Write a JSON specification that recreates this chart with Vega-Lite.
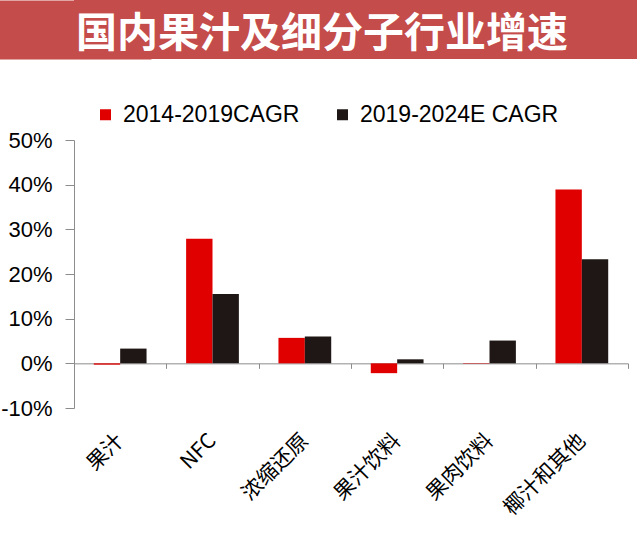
{
  "$schema": "https://vega.github.io/schema/vega-lite/v6.json",
  "background": "white",
  "padding": 0,
  "spacing": 44,
  "resolve": {"legend": {"color": "independent"}},
  "config": {"view": {"stroke": null}, "font": "Liberation Sans"},
  "vconcat": [
    {
      "width": 563,
      "height": 59,
      "view": {"fill": "#c44c4a", "stroke": null},
      "data": {"values": [{"heading": "国内果汁及细分子行业增速"}]},
      "mark": {"type": "text", "font": "Noto Sans CJK SC", "fontWeight": "bold", "fontSize": 41, "color": "white", "baseline": "middle", "dx": -33.5, "dy": 5},
      "encoding": {
        "text": {"field": "heading"},
        "y": {
          "field": "heading",
          "type": "nominal",
          "scale": {"paddingInner": 0, "paddingOuter": 0},
          "axis": {
            "title": null,
            "labels": false,
            "ticks": false,
            "domainWidth": 154,
            "domainCap": "butt",
            "domainColor": "#c44c4a"
          }
        }
      }
    },
    {
      "width": 554,
      "height": 268,
      "data": {
        "values": [
          {"segment": "果汁", "period": "2014-2019CAGR", "growth": -0.3},
          {"segment": "果汁", "period": "2019-2024E CAGR", "growth": 3.3},
          {"segment": "NFC", "period": "2014-2019CAGR", "growth": 27.9},
          {"segment": "NFC", "period": "2019-2024E CAGR", "growth": 15.5},
          {"segment": "浓缩还原", "period": "2014-2019CAGR", "growth": 5.7},
          {"segment": "浓缩还原", "period": "2019-2024E CAGR", "growth": 6.0},
          {"segment": "果汁饮料", "period": "2014-2019CAGR", "growth": -2.2},
          {"segment": "果汁饮料", "period": "2019-2024E CAGR", "growth": 0.9},
          {"segment": "果肉饮料", "period": "2014-2019CAGR", "growth": -0.1},
          {"segment": "果肉饮料", "period": "2019-2024E CAGR", "growth": 5.1},
          {"segment": "椰汁和其他", "period": "2014-2019CAGR", "growth": 38.9},
          {"segment": "椰汁和其他", "period": "2019-2024E CAGR", "growth": 23.3}
        ]
      },
      "mark": {"type": "bar"},
      "encoding": {
        "x": {
          "field": "segment",
          "type": "nominal",
          "sort": ["果汁", "NFC", "浓缩还原", "果汁饮料", "果肉饮料", "椰汁和其他"],
          "scale": {"paddingInner": 0, "paddingOuter": 0},
          "axis": {
            "title": null,
            "offset": -44.67,
            "tickBand": "extent",
            "tickSize": 5,
            "tickColor": "#8c8c8c",
            "domainColor": "#8c8c8c",
            "labelAngle": -45,
            "labelAlign": "right",
            "labelBaseline": "middle",
            "labelPadding": 69,
            "labelFont": "Noto Sans CJK SC",
            "labelFontSize": 21,
            "labelColor": "black"
          }
        },
        "xOffset": {
          "field": "period",
          "sort": ["2014-2019CAGR", "2019-2024E CAGR"],
          "scale": {"paddingInner": 0, "paddingOuter": 0.75}
        },
        "y": {
          "field": "growth",
          "type": "quantitative",
          "scale": {"domain": [-10, 50], "nice": false},
          "axis": {
            "title": null,
            "values": [-10, 0, 10, 20, 30, 40, 50],
            "labelExpr": "datum.value + '%'",
            "labelFontSize": 22,
            "labelColor": "black",
            "labelPadding": 13,
            "tickSize": 9,
            "tickColor": "#8c8c8c",
            "domainColor": "#8c8c8c",
            "grid": false
          }
        },
        "color": {
          "field": "period",
          "type": "nominal",
          "scale": {"domain": ["2014-2019CAGR", "2019-2024E CAGR"], "range": ["#e00000", "#1f1716"]},
          "legend": {
            "title": null,
            "orient": "none",
            "direction": "horizontal",
            "legendX": 20,
            "legendY": -37,
            "symbolType": "square",
            "symbolSize": 121,
            "symbolStrokeWidth": 0,
            "labelFontSize": 23,
            "labelLimit": 0,
            "labelColor": "black",
            "labelOffset": 6,
            "columnPadding": 31,
            "padding": 0
          }
        }
      }
    }
  ]
}
